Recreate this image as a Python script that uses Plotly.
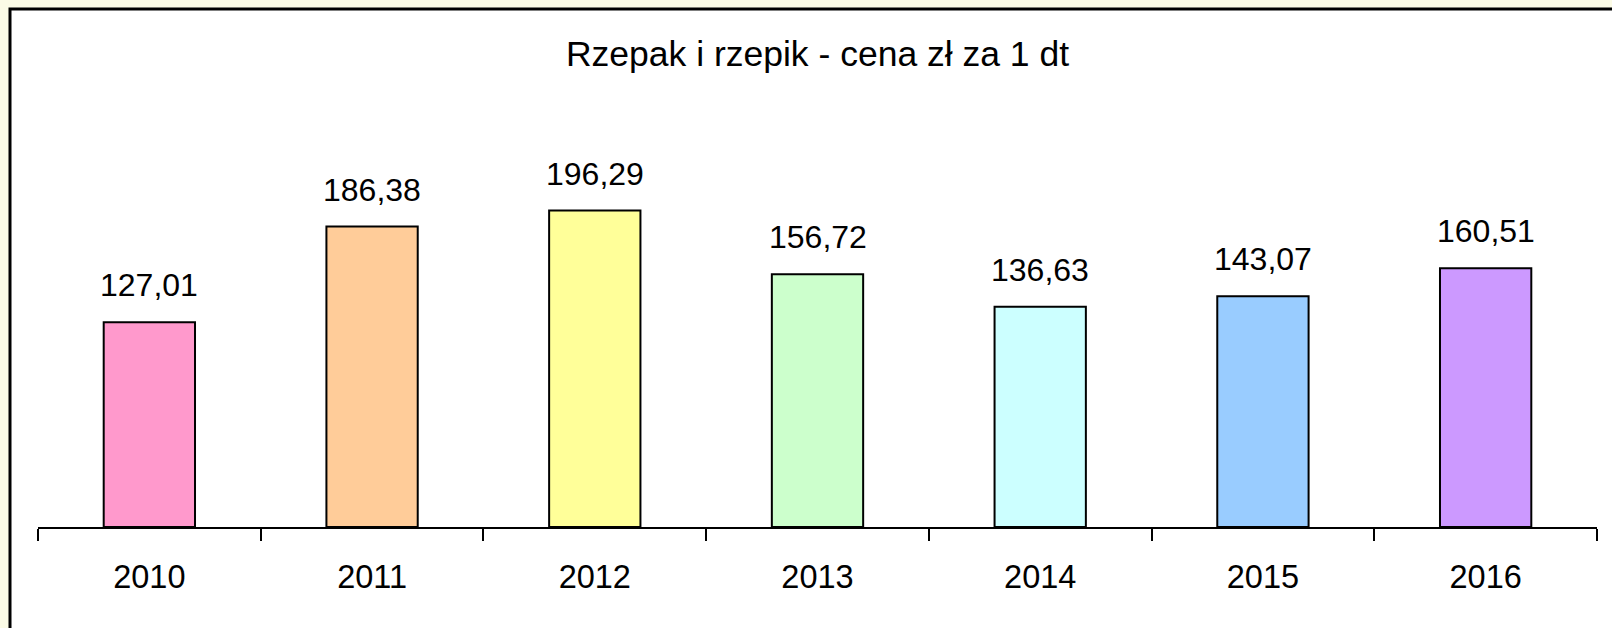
import plotly.graph_objects as go

years = ["2010", "2011", "2012", "2013", "2014", "2015", "2016"]
prices = [127.01, 186.38, 196.29, 156.72, 136.63, 143.07, 160.51]
labels = ["127,01", "186,38", "196,29", "156,72", "136,63", "143,07", "160,51"]
colors = ["#FF99CC", "#FFCC99", "#FFFF99", "#CCFFCC", "#CCFFFF", "#99CCFF", "#CC99FF"]
title_text = "Rzepak i rzepik - cena zł za 1 dt"

W, H = 1612, 628
L, R, T, B = 38, 15, 124, 101
pw = W - L - R
ph = H - T - B

fig = go.Figure()
fig.add_trace(go.Bar(
    x=years, y=prices,
    marker=dict(color=colors, line=dict(color="black", width=2)),
    width=0.41,
    showlegend=False,
    hoverinfo="skip",
))

for i, (v, lab) in enumerate(zip(prices, labels)):
    fig.add_annotation(
        x=i, y=v, text=lab, showarrow=False,
        yanchor="middle", yshift=37,
        font=dict(family="Liberation Sans, Arial", size=32, color="black"),
    )

# outer chart border (white box with black frame)
fig.add_shape(
    type="rect", xref="paper", yref="paper",
    x0=(10 - L) / pw, x1=(W + 20 - L) / pw,
    y0=-(H + 20 - (H - B)) / ph, y1=((H - B) - 9) / ph,
    line=dict(color="black", width=3), fillcolor="white", layer="below",
)

fig.update_layout(
    width=W, height=H,
    margin=dict(l=L, r=R, t=T, b=B),
    paper_bgcolor="#FBFBE6",
    plot_bgcolor="rgba(0,0,0,0)",
    title=dict(
        text=title_text, x=0.5, xanchor="center", xref="paper",
        y=1 - 54 / H, yanchor="middle", yref="container",
        font=dict(family="Liberation Sans, Arial", size=35.5, color="black"),
    ),
    xaxis=dict(
        type="category",
        range=[-0.5, len(years) - 0.5],
        showline=True, linecolor="black", linewidth=2,
        ticks="outside", ticklen=12, tickwidth=2, tickcolor="black",
        tickson="boundaries",
        showgrid=False, zeroline=False,
        tickangle=0,
        tickfont=dict(family="Liberation Sans, Arial", size=32.5, color="black"),
        ticklabelstandoff=20,
    ),
    yaxis=dict(
        range=[0, 250], visible=False, showgrid=False, zeroline=False,
    ),
)

fig.write_html(
    "out.html",
    config={"displayModeBar": False},
    post_script="document.body.style.margin='0px';document.body.style.overflow='hidden';",
)
